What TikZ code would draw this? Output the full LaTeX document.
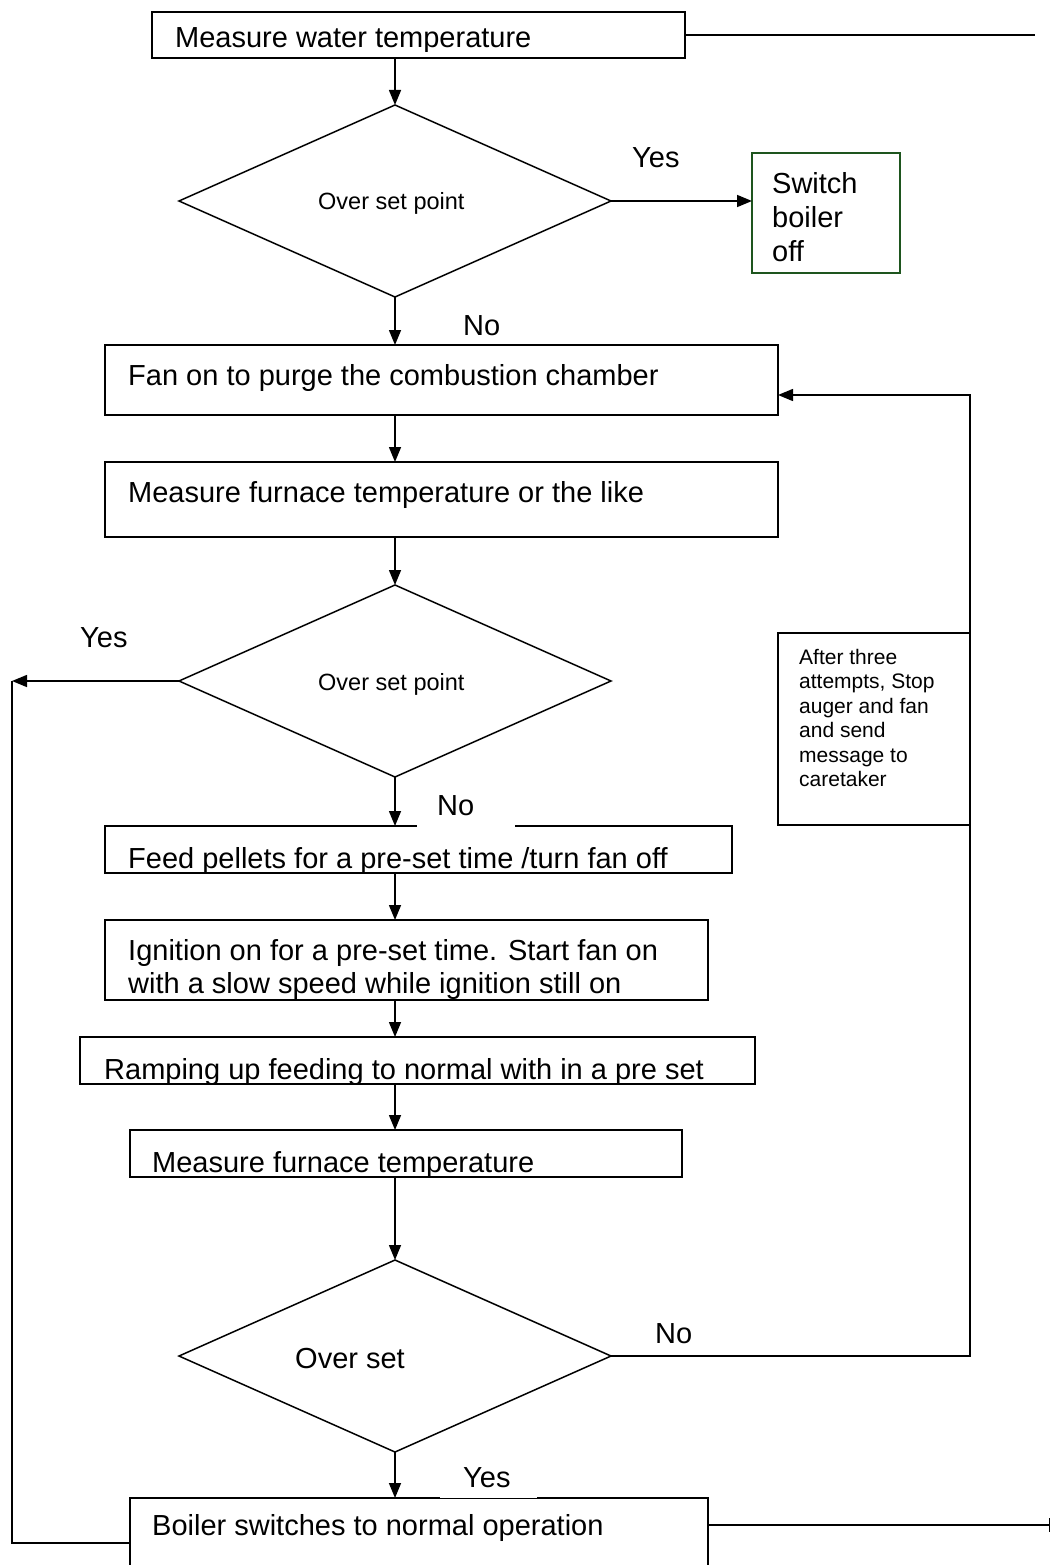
\documentclass[tikz,border=0pt]{standalone}
\usepackage{fontspec}
\setmainfont{Liberation Sans}
\usetikzlibrary{arrows.meta,shapes.geometric}
\definecolor{boxgreen}{RGB}{30,85,30}
\begin{document}
\begin{tikzpicture}[x=1pt,y=-1pt,
  box/.style={draw,line width=1.5pt,inner sep=0pt,outer sep=0pt,anchor=north west},
  dia/.style={draw,diamond,line width=1.5pt,inner sep=0pt,outer sep=0pt,minimum width=432pt,minimum height=192pt},
  conn/.style={line width=1.5pt},
  arr/.style={conn,-{Triangle[length=15pt,width=12pt]}},
  txt/.style={font=\fontsize{29}{33}\selectfont,inner sep=0pt,anchor=base west},
  small/.style={font=\fontsize{23.5}{27}\selectfont,inner sep=0pt,anchor=base west},
  note/.style={font=\fontsize{21}{24.5}\selectfont,inner sep=0pt,anchor=base west,align=left},
  patch/.style={fill=white,inner sep=0pt,outer sep=0pt,minimum height=34pt}
]
\useasboundingbox[fill=white] (0,0) rectangle (1053,1565);

% boxes
\node[box,minimum width=533pt,minimum height=46pt] (b1) at (152,12) {};
\node[dia] (d1) at (395,201) {};
\node[box,draw=boxgreen,minimum width=148pt,minimum height=120pt] (sw) at (752,153) {};
\node[box,minimum width=673pt,minimum height=70pt] (fan) at (105,345) {};
\node[box,minimum width=673pt,minimum height=75pt] (mf) at (105,462) {};
\node[dia] (d2) at (395,681) {};
\node[box,minimum width=192pt,minimum height=192pt] (at) at (778,633) {};
\node[box,minimum width=627pt,minimum height=47pt] (feed) at (105,826) {};
\node[box,minimum width=603pt,minimum height=80pt] (ign) at (105,920) {};
\node[box,minimum width=675pt,minimum height=47pt] (ramp) at (80,1037) {};
\node[box,minimum width=552pt,minimum height=47pt] (mft) at (130,1130) {};
\node[dia] (d3) at (395,1356) {};
\node[box,minimum width=578pt,minimum height=90pt] (bsw) at (130,1498) {};

\coordinate (te) at (1035,35);
\coordinate (lt) at (12,681);
\coordinate (be) at (1050,1525);

% connectors
\draw[conn] (b1.east) -- (te);
\draw[arr] (d1.north |- b1.south) -- (d1.north);
\draw[arr] (d1.east) -- (sw.west |- d1.east);
\draw[arr] (d1.south) -- (d1 |- fan.north);
\draw[arr] (d1 |- fan.south) -- (d1 |- mf.north);
\draw[arr] (d1 |- mf.south) -- (d2.north);
\draw[arr] (d2.west) -- (lt);
\draw[conn] (lt) |- (bsw.west);
\draw[arr] (d2.south) -- (d2 |- feed.north);
\draw[arr] (d2 |- feed.south) -- (d2 |- ign.north);
\draw[arr] (d2 |- ign.south) -- (d2 |- ramp.north);
\draw[arr] (d2 |- ramp.south) -- (d2 |- mft.north);
\draw[arr] (d2 |- mft.south) -- (d3.north);
\draw[arr] (d3.south) -- (d3 |- bsw.north);
\draw[conn] (d3.east) -| (at.south east);
\draw[arr] (at.north east) |- ([yshift=-15pt]fan.east);
\draw[conn,-{Bar[width=14pt]}] (bsw.north east |- be) -- (be);

% white patches behind labels
\node[patch,minimum width=98pt] (p1) at (466,811) {};
\node[patch,minimum width=97pt] (p2) at (488,1481) {};

% texts
\begin{scope}
\clip (152,12) rectangle (685,52);
\node[txt] (t1) at (175,48) {Measure water temperature};
\end{scope}
\node[small] (t2) at (318,210) {Over set point};
\node[txt] (y1) at (632,168) {Yes};
\node[txt,font=\fontsize{29}{34}\selectfont,align=left,anchor=base west] (t3) at (772,261) {Switch\\boiler\\off};
\node[txt] (n1) at (463,335) {No};
\node[txt] (t4) at (128,385) {Fan on to purge the combustion chamber};
\node[txt] (t5) at (128,502) {Measure furnace temperature or the like};
\node[small] (t6) at (318,690) {Over set point};
\node[txt] (y2) at (80,647) {Yes};
\node[note,anchor=north west] (t7) at (799,649) {After three\\attempts, Stop\\auger and fan\\and send\\message to\\caretaker};
\node[txt] (n2) at (437,815) {No};
\begin{scope}
\clip (105,826) rectangle (732,872);
\node[txt] (t8) at (128,868) {Feed pellets for a pre-set time /turn fan off};
\end{scope}
\node[txt,align=left,anchor=base west] (t9) at (128,993) {Ignition on for a pre-set time. Start fan on\\with a slow speed while ignition still on};
\begin{scope}
\clip (80,1037) rectangle (755,1083);
\node[txt] (t10) at (104,1079) {Ramping up feeding to normal with in a pre set};
\end{scope}
\begin{scope}
\clip (130,1130) rectangle (682,1176);
\node[txt] (t11) at (152,1172) {Measure furnace temperature};
\end{scope}
\node[txt] (t12) at (295,1368) {Over set};
\node[txt] (n3) at (655,1343) {No};
\node[txt] (y3) at (463,1487) {Yes};
\node[txt] (t13) at (152,1535) {Boiler switches to normal operation};
\end{tikzpicture}
\end{document}
